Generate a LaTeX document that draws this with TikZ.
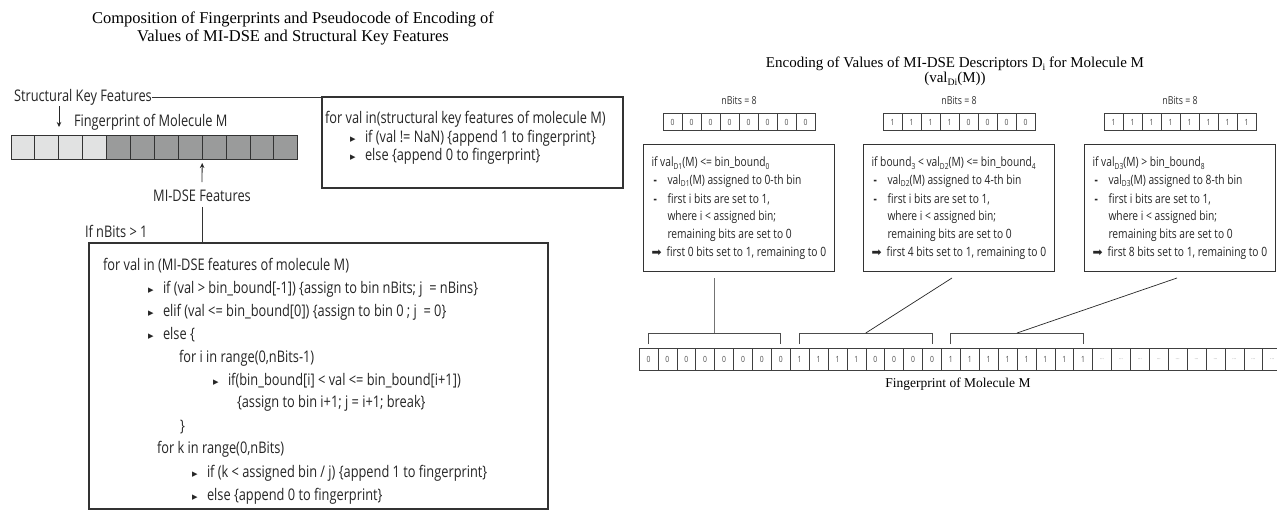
\documentclass[tikz,border=0pt]{standalone}
\usepackage{fontspec}
\usepackage{graphicx}
\setmainfont{Liberation Serif}
\newfontfamily\cond[FakeStretch=0.8]{Open Sans}
\newfontfamily\symf{DejaVu Sans}
\usetikzlibrary{arrows.meta,calc}
\definecolor{lightc}{HTML}{E1E2E2}
\definecolor{darkc}{HTML}{9A9B9B}
\newcommand{\tri}{{\symf\fontsize{11}{11}\selectfont ▸}}
\newcommand{\bul}{\makebox[15pt][l]{\tri}}
\newcommand{\dbul}{\makebox[14pt][l]{\bfseries -}}
\newcommand{\abul}{\makebox[15pt][l]{{\symf\fontsize{12}{12}\selectfont ➡}}}
\newcommand{\lowx}[1]{\raisebox{-0.35ex}{\scalebox{0.65}{#1}}}
\begin{document}
\begin{tikzpicture}[x=1pt,y=-1pt,
 every node/.style={inner sep=0pt, outer sep=0pt},
 sans/.style={font=\cond\fontsize{16}{19}\selectfont, text=black!85},
 ln/.style={sans, anchor=west},
 dln/.style={anchor=west, font=\cond\fontsize{12.8}{15}\selectfont, text=black!85},
 boxl/.style={draw=black!80, line width=1.1pt},
 boxr/.style={draw=black!80, line width=0.9pt},
 fcell/.style={draw=black!80, line width=0.9pt, minimum width=23.9pt, minimum height=24pt},
 bcell/.style={draw=black!75, line width=0.6pt, minimum width=19pt, minimum height=17pt, font=\cond\fontsize{8.5}{9}\selectfont, text=black!70},
 rcell/.style={draw=black!75, line width=0.6pt, minimum width=18.9pt, minimum height=22pt, font=\cond\fontsize{8.5}{9}\selectfont, text=black!70},
 dcell/.style={rcell, text=black!40, font=\cond\fontsize{6}{7}\selectfont},
 arr/.style={-{Stealth[length=5pt,width=4.5pt]}, line width=0.8pt, black!85},
 brk/.style={draw=black!70, line width=0.8pt},
 conn/.style={draw=black!85, line width=0.7pt},
]
\useasboundingbox[fill=white] (0,0) rectangle (1277,512);

% ---------- left titles
\node[font=\fontsize{16.5}{19}\selectfont] (t1) at (293,19) {Composition of Fingerprints and Pseudocode of Encoding of};
\node[font=\fontsize{16.5}{19}\selectfont] (t2) at (293,37) {Values of MI-DSE and Structural Key Features};

% ---------- structural key features
\node[ln] (sk) at (14,97) {Structural Key Features};
\coordinate (skend) at (373,97);
\draw[line width=0.8pt, black!80] (sk.east) -- (skend);
\coordinate (a1s) at (59,106);
\coordinate (a1e) at (59,127);
\draw[arr] (a1s) -- (a1e);
\node[ln] (fpm) at (74,122) {Fingerprint of Molecule M};

\foreach \i in {0,...,3} \node[fcell, fill=lightc] (c\i) at ({22.95+23.9*\i},147) {};
\foreach \i in {4,...,11} \node[fcell, fill=darkc] (c\i) at ({22.95+23.9*\i},147) {};

\coordinate (a2s) at (202,182);
\draw[arr] (a2s) -- ([yshift=-4pt]c8.south west);
\node[sans] (midse) at (202,196) {MI-DSE Features};
\node[ln] (ifn) at (85,231) {If nBits > 1};

% ---------- big pseudocode box
\node[boxl, anchor=north west, minimum width=459pt, minimum height=266pt] (big) at (89,243) {};
\draw[line width=0.9pt, black!80] ([yshift=-5pt]midse.south) -- (midse.south |- big.north);

\node[ln] (p1) at (103,266) {for val in (MI-DSE features of molecule M)};
\node[ln] (p2) at (148,289) {\bul if (val > bin\_bound[-1]) \{assign to bin nBits; j~ = nBins\}};
\node[ln] (p3) at (148,312) {\bul elif (val <= bin\_bound[0]) \{assign to bin 0 ; j~ = 0\}};
\node[ln] (p4) at (148,335) {\bul else \{};
\node[ln] (p5) at (179,358) {for i in range(0,nBits-1)};
\node[ln] (p6) at (213,381) {\bul if(bin\_bound[i] < val <= bin\_bound[i+1])};
\node[ln] (p7) at (237,403) {\{assign to bin i+1; j = i+1; break\}};
\node[ln] (p8) at (180,427) {\}};
\node[ln] (p9) at (157,449) {for k in range(0,nBits)};
\node[ln] (p10) at (192,473) {\bul if (k < assigned bin / j) \{append 1 to fingerprint\}};
\node[ln] (p11) at (192,496) {\bul else \{append 0 to fingerprint\}};

% ---------- structural key box
\node[boxl, anchor=north west, minimum width=301pt, minimum height=91pt] (sbox) at (322,97) {};
\node[ln] (s1) at (325,119) {for val in(structural key features of molecule M)};
\node[ln] (s2) at (350,138) {\bul if (val != NaN) \{append 1 to fingerprint\}};
\node[ln] (s3) at (350,156) {\bul else \{append 0 to fingerprint\}};

% ---------- right titles
\node[font=\fontsize{15}{17}\selectfont] (rt1) at (955,64) {Encoding of Values of MI-DSE Descriptors D\lowx{i} for Molecule M};
\node[font=\fontsize{15}{17}\selectfont] (rt2) at (955,79) {(val\lowx{Di}(M))};

% ---------- three descriptor columns
\foreach \k/\cx in {1/739,2/959,3/1180}
  \node[font=\cond\fontsize{11}{12}\selectfont, text=black!80] (nb\k) at (\cx,101) {nBits = 8};

\foreach \v [count=\j from 0] in {0,0,0,0,0,0,0,0}
  \node[bcell] (ra\j) at ({672.5+19*\j},122) {\v};
\foreach \v [count=\j from 0] in {1,1,1,1,0,0,0,0}
  \node[bcell] (rb\j) at ({892.5+19*\j},122) {\v};
\foreach \v [count=\j from 0] in {1,1,1,1,1,1,1,1}
  \node[bcell] (rc\j) at ({1113.5+19*\j},122) {\v};

\node[boxr, anchor=north, minimum width=191pt, minimum height=127pt] (d1) at (739,144) {};
\node[boxr, anchor=north, minimum width=191pt, minimum height=127pt] (d2) at (959,144) {};
\node[boxr, anchor=north, minimum width=191pt, minimum height=127pt] (d3) at (1180,144) {};

% box 1
\node[dln] (d1a) at (651.5,163) {if val\lowx{D1}(M) <= bin\_bound\lowx{0}};
\node[dln] (d1b) at (653.5,181) {\dbul val\lowx{D1}(M) assigned to 0-th bin};
\node[dln] (d1c) at (653.5,199) {\dbul first i bits are set to 1,};
\node[dln] (d1d) at (667.5,217) {where i < assigned bin;};
\node[dln] (d1e) at (667.5,235) {remaining bits are set to 0};
\node[dln] (d1f) at (651.5,253) {\abul first 0 bits set to 1, remaining to 0};
% box 2
\node[dln] (d2a) at (871.5,163) {if bound\lowx{3} < val\lowx{D2}(M) <= bin\_bound\lowx{4}};
\node[dln] (d2b) at (873.5,181) {\dbul val\lowx{D2}(M) assigned to 4-th bin};
\node[dln] (d2c) at (873.5,199) {\dbul first i bits are set to 1,};
\node[dln] (d2d) at (887.5,217) {where i < assigned bin;};
\node[dln] (d2e) at (887.5,235) {remaining bits are set to 0};
\node[dln] (d2f) at (871.5,253) {\abul first 4 bits set to 1, remaining to 0};
% box 3
\node[dln] (d3a) at (1092.5,163) {if val\lowx{D3}(M) > bin\_bound\lowx{8}};
\node[dln] (d3b) at (1094.5,181) {\dbul val\lowx{D3}(M) assigned to 8-th bin};
\node[dln] (d3c) at (1094.5,199) {\dbul first i bits are set to 1,};
\node[dln] (d3d) at (1108.5,217) {where i < assigned bin;};
\node[dln] (d3e) at (1108.5,235) {remaining bits are set to 0};
\node[dln] (d3f) at (1092.5,253) {\abul first 8 bits set to 1, remaining to 0};

% ---------- fingerprint row
\foreach \v [count=\j from 0] in {0,0,0,0,0,0,0,0,1,1,1,1,0,0,0,0,1,1,1,1,1,1,1,1}
  \node[rcell] (f\j) at ({648.45+18.9*\j},359) {\v};
\foreach \j in {24,...,33}
  \node[dcell] (f\j) at ({648.45+18.9*\j},359) {...};

\foreach \a/\b in {0/7,8/15,16/23}
  \draw[brk] ([yshift=4pt]f\a.north) -- ++(0,-11) -| ([yshift=4pt]f\b.north);

\coordinate (bt0) at (714.6,333);
\coordinate (bt1) at (865.8,333);
\coordinate (bt2) at (1017,333);
\draw[draw=black!55, line width=0.8pt] ([yshift=-7pt]d1.south -| bt0) -- (bt0);
\draw[conn] ([xshift=-7pt,yshift=-7pt]d2.south) -- (bt1);
\draw[conn] ([xshift=-3pt,yshift=-7pt]d3.south) -- (bt2);

\node[font=\fontsize{13.5}{16}\selectfont] (fpl) at (958,384) {Fingerprint of Molecule M};
\end{tikzpicture}
\end{document}
